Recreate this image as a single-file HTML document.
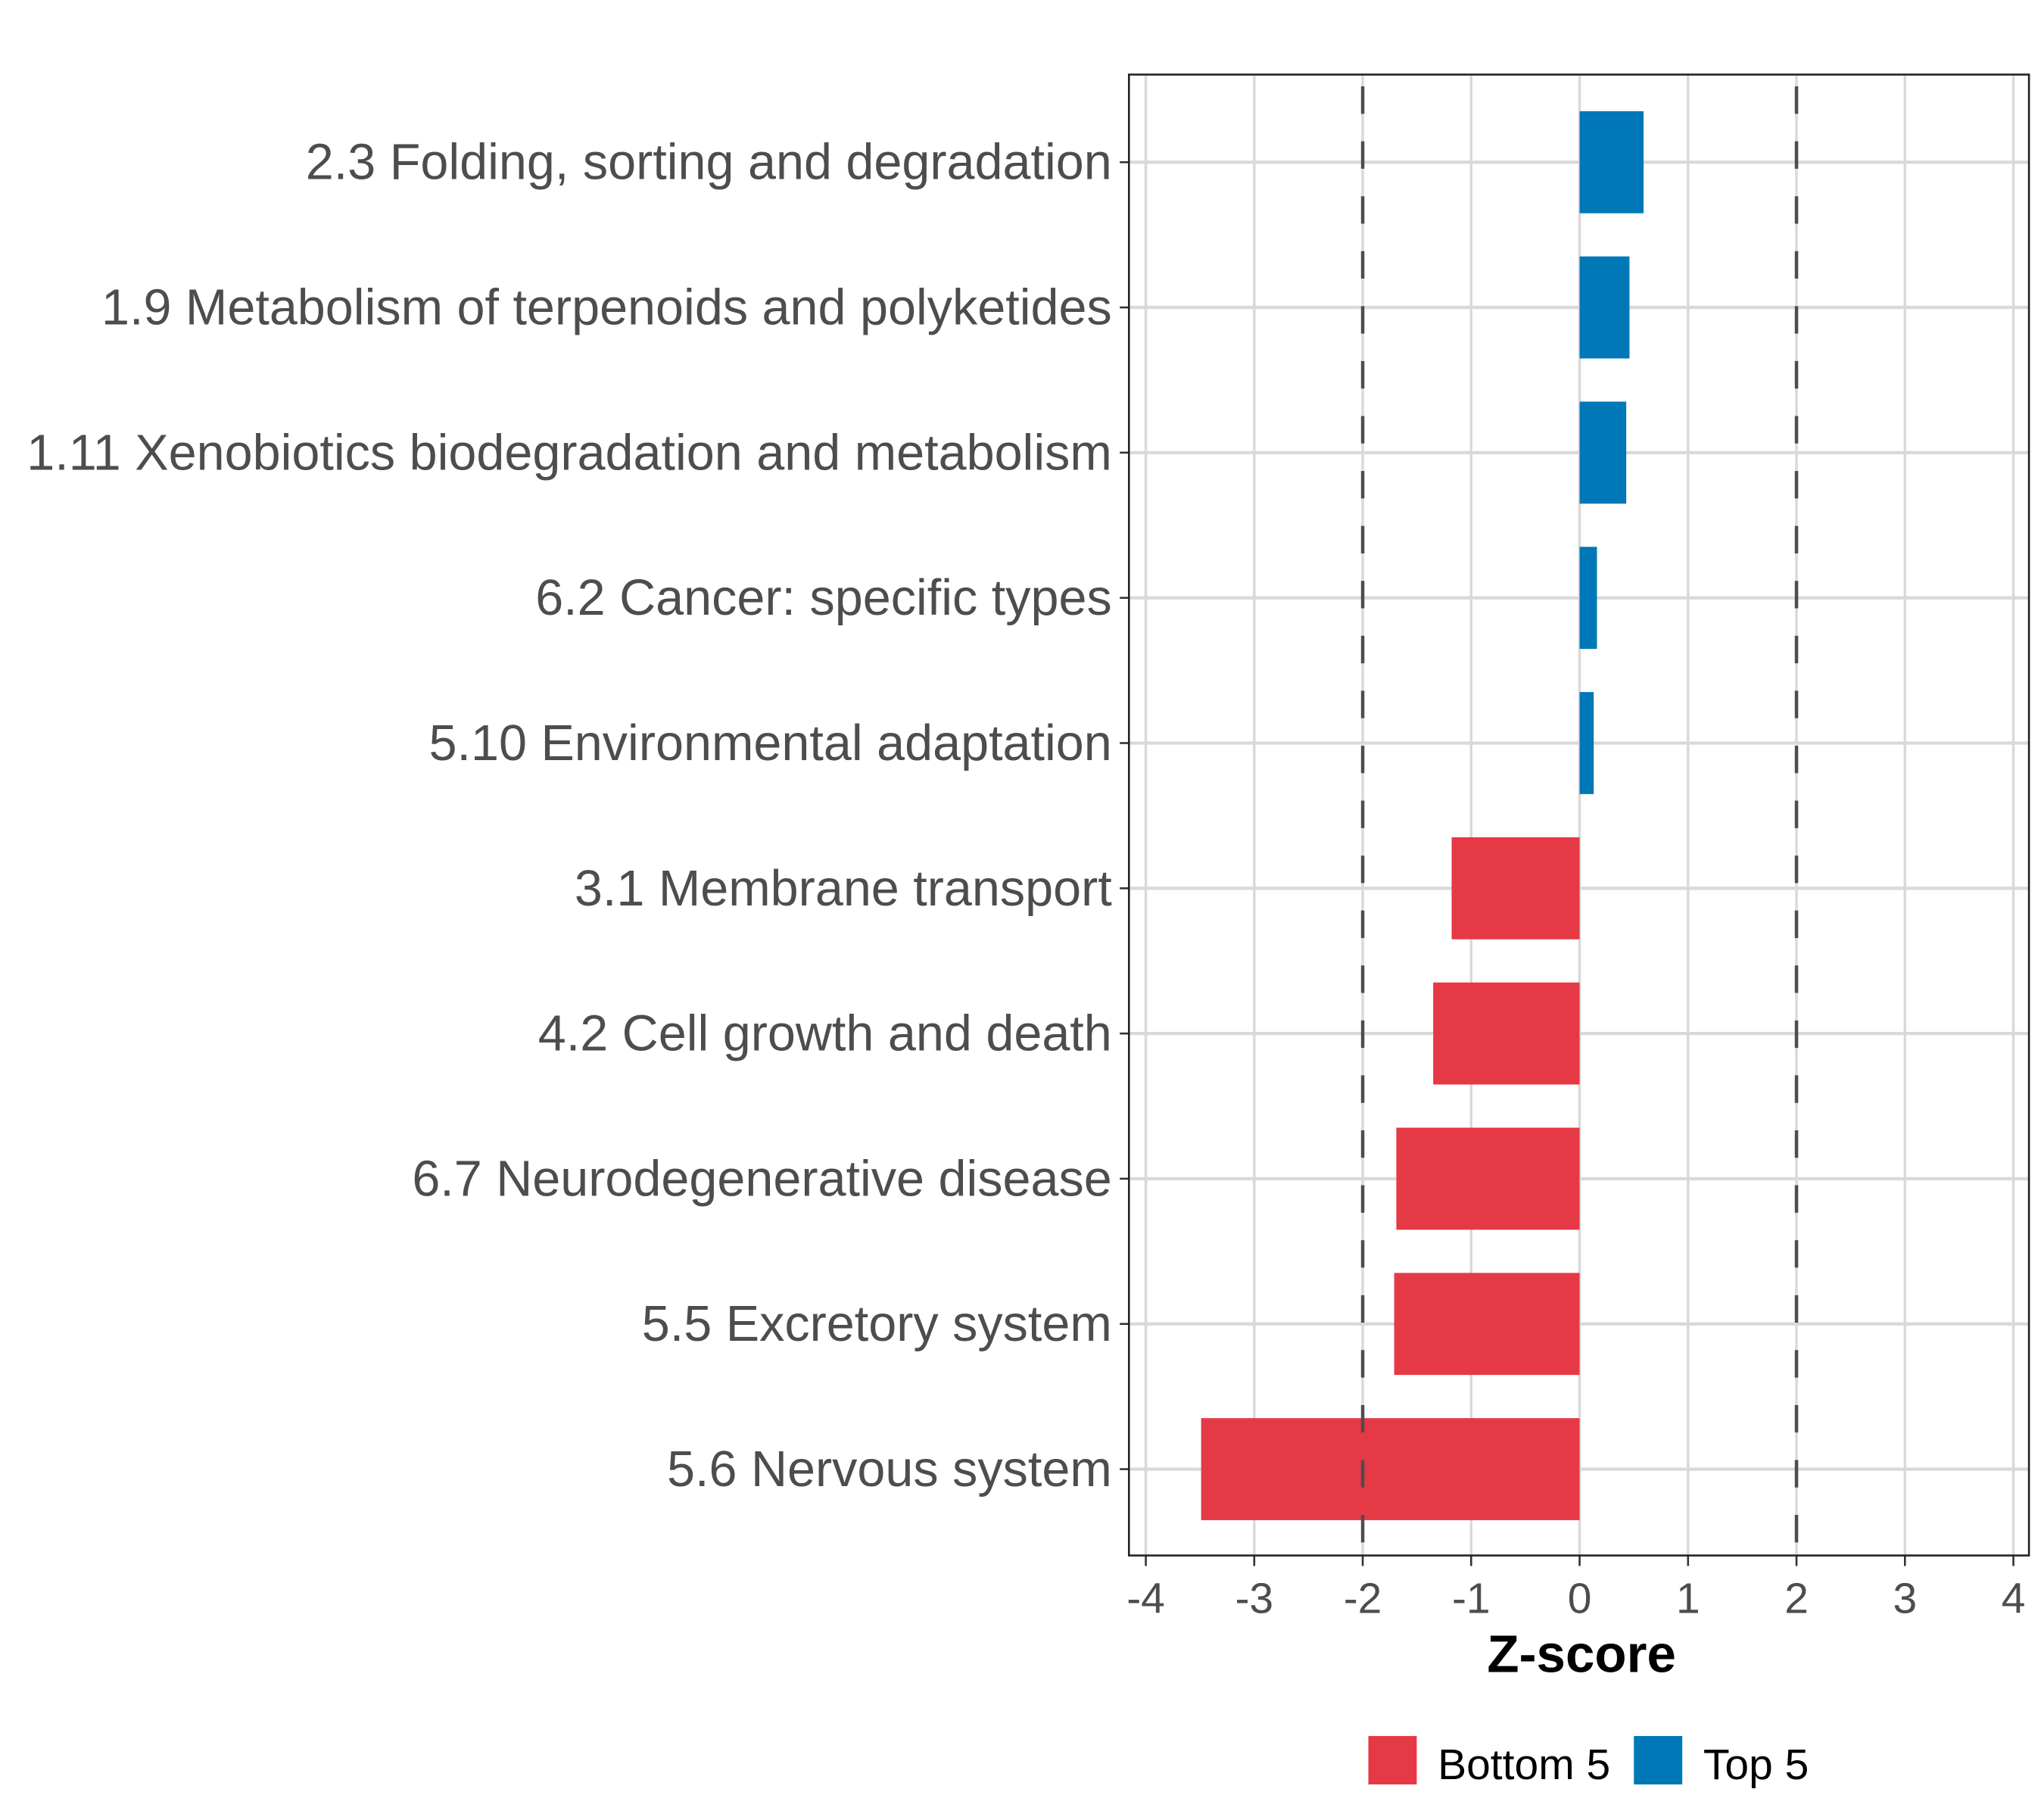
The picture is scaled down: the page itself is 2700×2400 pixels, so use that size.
<!DOCTYPE html>
<html><head><meta charset="utf-8"><style>
html,body{margin:0;padding:0;background:#fff;}
svg{display:block;}
text{font-family:"Liberation Sans",Arial,sans-serif;}
</style></head><body>
<svg id="chart" width="2700" height="2400" viewBox="0 0 1562.5 1388.9" preserveAspectRatio="none" xmlns="http://www.w3.org/2000/svg">
<rect width="1562.5" height="1388.9" fill="#fff"/>
<g id="grid"></g><g id="bars"></g><g id="refs"></g><g id="axes"></g>
<text x="1209" y="1278" text-anchor="middle" font-size="40" font-weight="bold" fill="#000">Z-score</text>
<g>
<rect x="1046" y="1327" width="37" height="37" fill="#E63946"/>
<text x="1099" y="1360" font-size="33" fill="#000">Bottom 5</text>
<rect x="1249" y="1327" width="37" height="37" fill="#0077B6"/>
<text x="1302" y="1360" font-size="33" fill="#000">Top 5</text>
</g>
</svg>
<script>
const categories=["2.3 Folding, sorting and degradation","1.9 Metabolism of terpenoids and polyketides","1.11 Xenobiotics biodegradation and metabolism","6.2 Cancer: specific types","5.10 Environmental adaptation","3.1 Membrane transport","4.2 Cell growth and death","6.7 Neurodegenerative disease","5.5 Excretory system","5.6 Nervous system"];
const zscores=[0.59,0.46,0.43,0.16,0.13,-1.18,-1.35,-1.69,-1.71,-3.49];
const groups=["Top 5","Top 5","Top 5","Top 5","Top 5","Bottom 5","Bottom 5","Bottom 5","Bottom 5","Bottom 5"];
const xTicks=[-4,-3,-2,-1,0,1,2,3,4];
const refLines=[-2,2];

const NS="http://www.w3.org/2000/svg";
const P={l:863,r:1551,t:57,b:1189};
const xs=v=>1207.5+v*82.9;
const ys=i=>124+i*111;
const barH=78;
function mk(tag,attrs,parent){const e=document.createElementNS(NS,tag);for(const k in attrs)e.setAttribute(k,attrs[k]);parent.appendChild(e);return e;}
const grid=document.getElementById('grid'),bars=document.getElementById('bars'),refs=document.getElementById('refs'),axes=document.getElementById('axes');
const panel=mk('rect',{x:P.l,y:P.t,width:P.r-P.l,height:P.b-P.t,fill:'#fff'},grid);


xTicks.forEach(t=>{
  const g=mk('line',{x1:xs(t),x2:xs(t),y1:P.t,y2:P.b,stroke:'#d9d9d9','stroke-width':2},grid);
  
  
  const tk=mk('line',{x1:xs(t),x2:xs(t),y1:P.b,y2:P.b+8,stroke:'#333','stroke-width':1.5},axes);
  
  
  const tl=mk('text',{x:xs(t),y:1233,'text-anchor':'middle','font-size':33,fill:'#4d4d4d'},axes);
  tl.textContent=t;
  
  
});
categories.forEach((c,i)=>{
  const g=mk('line',{x1:P.l,x2:P.r,y1:ys(i),y2:ys(i),stroke:'#d9d9d9','stroke-width':2.5},grid);
  
  
  const v=zscores[i];
  const x0=Math.min(xs(0),xs(v)),w=Math.abs(xs(v)-xs(0));
  const b=mk('rect',{x:x0,y:ys(i)-barH/2,width:w,height:barH,fill:groups[i]==="Top 5"?'#0077B6':'#E63946'},bars);
  
  
  const tk=mk('line',{x1:P.l-7,x2:P.l,y1:ys(i),y2:ys(i),stroke:'#333','stroke-width':1.5},axes);
  
  
  const tl=mk('text',{x:P.l-13,y:ys(i)+13,'text-anchor':'end','font-size':38.5,fill:'#4d4d4d'},axes);
  tl.textContent=c;
  
  
});
refLines.forEach(r=>{
  const l=mk('line',{x1:xs(r),x2:xs(r),y1:P.t,y2:P.b,stroke:'#4d4d4d','stroke-width':2.6,'stroke-dasharray':'21 21','stroke-dashoffset':'-9'},refs);
  
  
});
const border=mk('rect',{x:P.l,y:P.t,width:P.r-P.l,height:P.b-P.t,fill:'none',stroke:'#222','stroke-width':1.5},axes);


</script>
</body></html>
